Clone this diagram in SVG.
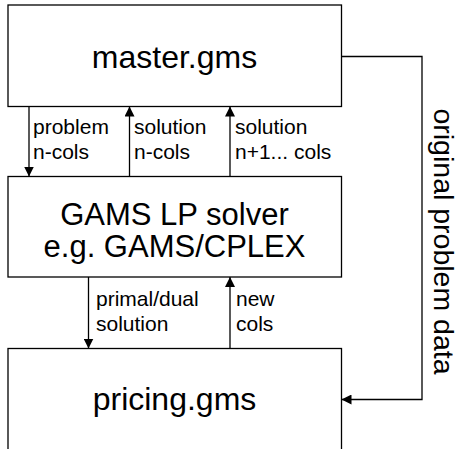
<svg xmlns="http://www.w3.org/2000/svg" width="458" height="449" viewBox="0 0 458 449">
<style>
.box{fill:#fff;stroke:#000;stroke-width:1.3}
.big{font-family:"Liberation Sans",Arial,sans-serif;font-size:32px;fill:#000;text-anchor:middle}
.mid{font-family:"Liberation Sans",Arial,sans-serif;font-size:31px;fill:#000;text-anchor:middle}
.lbl{font-family:"Liberation Sans",Arial,sans-serif;font-size:21px;fill:#000}
.side{font-family:"Liberation Sans",Arial,sans-serif;font-size:28.5px;fill:#000;text-anchor:middle}
.con{fill:none;stroke:#000;stroke-width:1.3}
</style>
<defs>
<marker id="ah" viewBox="0 0 10 10" refX="10" refY="5" markerWidth="10" markerHeight="10" markerUnits="userSpaceOnUse" orient="auto">
<path d="M0,0 L10,5 L0,10 z" fill="#000"/>
</marker>
</defs>
<rect width="458" height="449" fill="#fff"/>
<g id="master">
<rect class="box" x="8" y="5" width="333.5" height="101.5"/>
<text class="big" x="174.5" y="67.5">master.gms</text>
</g>
<g id="solver">
<rect class="box" x="8" y="176.5" width="333.5" height="100.5"/>
<text class="mid" x="174.5" y="225">GAMS LP solver</text>
<text class="mid" x="174.5" y="257">e.g. GAMS/CPLEX</text>
</g>
<g id="pricing">
<rect class="box" x="8" y="348.5" width="333.5" height="120"/>
<text class="big" x="174.5" y="410">pricing.gms</text>
</g>
<g id="connectors">
<line class="con" x1="29" y1="106.5" x2="29" y2="176.5" marker-end="url(#ah)"/>
<line class="con" x1="129.5" y1="176.5" x2="129.5" y2="106.5" marker-end="url(#ah)"/>
<line class="con" x1="230" y1="176.5" x2="230" y2="106.5" marker-end="url(#ah)"/>
<line class="con" x1="88.5" y1="277" x2="88.5" y2="348.5" marker-end="url(#ah)"/>
<line class="con" x1="230" y1="348.5" x2="230" y2="277" marker-end="url(#ah)"/>
<polyline class="con" points="341.5,56.5 422,56.5 422,399.5 341.5,399.5" marker-end="url(#ah)"/>
<text class="lbl" x="33" y="134">problem</text>
<text class="lbl" x="33" y="159">n-cols</text>
<text class="lbl" x="134" y="134">solution</text>
<text class="lbl" x="134" y="159">n-cols</text>
<text class="lbl" x="235" y="134">solution</text>
<text class="lbl" x="235" y="159">n+1... cols</text>
<text class="lbl" x="96" y="306">primal/dual</text>
<text class="lbl" x="96" y="331">solution</text>
<text class="lbl" x="236" y="306">new</text>
<text class="lbl" x="236" y="331">cols</text>
<text class="side" transform="translate(433.5,241.5) rotate(90)">original problem data</text>
</g>
</svg>
